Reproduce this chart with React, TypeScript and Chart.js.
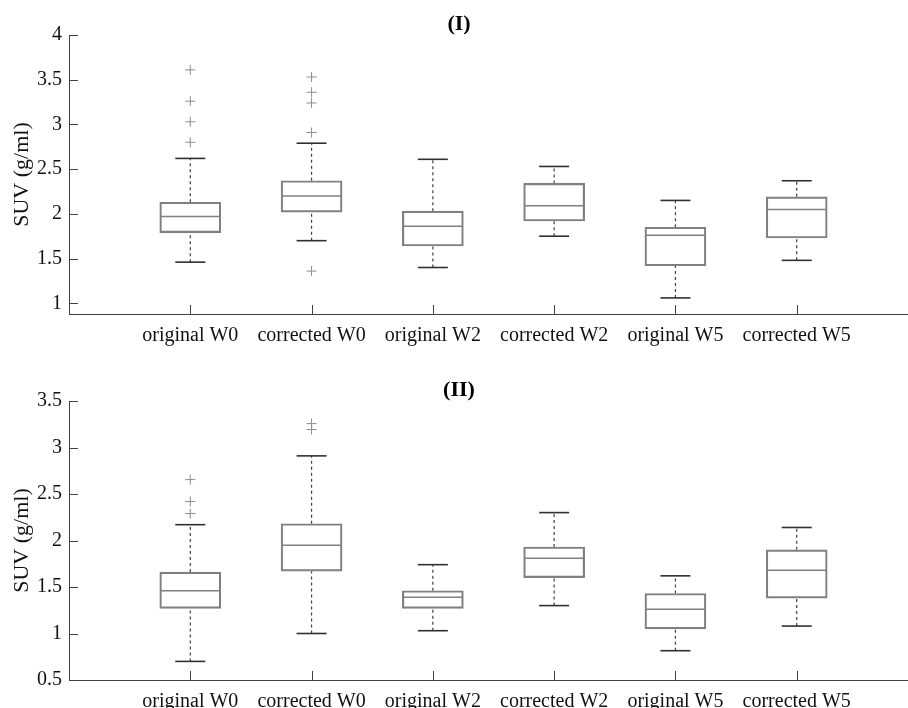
import React, { useEffect, useRef } from 'react';
import { Chart, registerables } from 'chart.js';

Chart.register(...registerables);

// ---------- data ----------
const categories = ['original W0', 'corrected W0', 'original W2', 'corrected W2', 'original W5', 'corrected W5'];

// Panel (I)
const lowI = [1.46, 1.70, 1.40, 1.75, 1.06, 1.48];
const q1I = [1.79, 2.02, 1.64, 1.92, 1.42, 1.73];
const medI = [1.97, 2.20, 1.86, 2.09, 1.76, 2.05];
const q3I = [2.13, 2.37, 2.03, 2.34, 1.85, 2.19];
const highI = [2.62, 2.79, 2.61, 2.53, 2.15, 2.37];
const outliersI = [[3.61, 3.26, 3.03, 2.80], [3.53, 3.36, 3.24, 2.91, 1.36], [], [], [], []];
const yTicksI = [1, 1.5, 2, 2.5, 3, 3.5, 4];

// Panel (II)
const lowII = [0.70, 1.00, 1.03, 1.30, 0.815, 1.08];
const q1II = [1.27, 1.67, 1.27, 1.60, 1.05, 1.38];
const medII = [1.46, 1.95, 1.39, 1.81, 1.26, 1.68];
const q3II = [1.66, 2.18, 1.46, 1.93, 1.43, 1.90];
const highII = [2.17, 2.91, 1.74, 2.30, 1.62, 2.14];
const outliersII = [[2.655, 2.42, 2.29], [3.257, 3.193], [], [], [], []];
const yTicksII = [0.5, 1, 1.5, 2, 2.5, 3, 3.5];

const yLabel = 'SUV (g/ml)';

// ---------- styles ----------
const FONT = "'Liberation Serif', 'Times New Roman', serif";
const AXIS = '#404040';
const BOX = '#808080';
const CAP = '#303030';
const WHISK = '#404040';
const OUT = '#8c8c8c';
const TEXT = '#111111';

interface PanelSpec {
  title: string;
  low: number[];
  q1: number[];
  med: number[];
  q3: number[];
  high: number[];
  outliers: number[][];
  yMin: number;
  yMax: number;
  yTicks: number[];
  titlePadTop: number;
  xAxisHeight: number;
}

const inwardTicks = {
  id: 'inwardTicks',
  afterDatasetsDraw(chart: any) {
    const { ctx, chartArea, scales } = chart;
    const x = scales.x;
    const y = scales.y;
    ctx.save();
    ctx.strokeStyle = AXIS;
    ctx.lineWidth = 1;
    ctx.beginPath();
    x.ticks.forEach((t: any) => {
      const px = Math.round(x.getPixelForValue(t.value)) + 0.5;
      ctx.moveTo(px, chartArea.bottom);
      ctx.lineTo(px, chartArea.bottom - 9);
    });
    y.ticks.forEach((t: any) => {
      const py = Math.round(y.getPixelForValue(t.value)) + 0.5;
      ctx.moveTo(chartArea.left, py);
      ctx.lineTo(chartArea.left + 9, py);
    });
    ctx.stroke();
    ctx.restore();
  },
};

function buildConfig(p: PanelSpec): any {
  const pos = categories.map((_, i) => i + 1);
  const whiskerData: any[] = [];
  pos.forEach((x, i) => {
    whiskerData.push({ x, y: p.q3[i] }, { x, y: p.high[i] }, { x, y: null });
    whiskerData.push({ x, y: p.low[i] }, { x, y: p.q1[i] }, { x, y: null });
  });
  const capData: any[] = [];
  pos.forEach((x, i) => {
    capData.push({ x, y: p.high[i] }, { x, y: p.low[i] });
  });
  const outlierData = p.outliers.flatMap((arr, i) => arr.map((v) => ({ x: i + 1, y: v })));

  return {
    type: 'bar',
    data: {
      datasets: [
        {
          type: 'line',
          data: whiskerData,
          borderColor: WHISK,
          borderWidth: 1.2,
          borderDash: [3, 3],
          pointRadius: 0,
          spanGaps: false,
          fill: false,
          order: 5,
        },
        {
          type: 'bar',
          data: pos.map((x, i) => ({ x, y: [p.q1[i], p.q3[i]] })),
          backgroundColor: 'rgba(255,255,255,0)',
          borderColor: BOX,
          borderWidth: 1.5,
          borderSkipped: false,
          barThickness: 61,
          order: 4,
        },
        {
          type: 'scatter',
          data: pos.map((x, i) => ({ x, y: p.med[i] })),
          pointStyle: 'line',
          pointRadius: 30,
          borderColor: BOX,
          pointBorderColor: BOX,
          pointBorderWidth: 1.5,
          order: 3,
        },
        {
          type: 'scatter',
          data: capData,
          pointStyle: 'line',
          pointRadius: 15,
          borderColor: CAP,
          pointBorderColor: CAP,
          pointBorderWidth: 1.6,
          order: 2,
        },
        {
          type: 'scatter',
          data: outlierData,
          pointStyle: 'cross',
          pointRadius: 5,
          borderColor: OUT,
          pointBorderColor: OUT,
          pointBorderWidth: 1,
          order: 1,
        },
      ],
    },
    options: {
      animation: false,
      responsive: true,
      maintainAspectRatio: false,
      events: [],
      layout: { padding: 0, autoPadding: false },
      plugins: {
        legend: { display: false },
        tooltip: { enabled: false },
        title: {
          display: true,
          text: p.title,
          color: '#000',
          font: { family: FONT, size: 22, weight: 'bold', lineHeight: 1 },
          padding: { top: p.titlePadTop, bottom: 0 },
        },
      },
      scales: {
        x: {
          type: 'linear',
          min: 0,
          max: 7,
          offset: false,
          afterBuildTicks: (scale: any) => {
            scale.ticks = pos.map((v) => ({ value: v }));
          },
          afterFit: (scale: any) => {
            scale.height = p.xAxisHeight;
            scale.paddingLeft = 0;
            scale.paddingRight = 0;
          },
          grid: { display: false, drawTicks: false },
          border: { display: true, color: AXIS, width: 1 },
          ticks: {
            autoSkip: false,
            maxRotation: 0,
            padding: 10,
            color: TEXT,
            font: { family: FONT, size: 20 },
            callback: (v: any) => categories[Math.round(v) - 1] ?? '',
          },
        },
        y: {
          type: 'linear',
          min: p.yMin,
          max: p.yMax,
          afterBuildTicks: (scale: any) => {
            scale.ticks = p.yTicks.map((v) => ({ value: v }));
          },
          afterFit: (scale: any) => {
            scale.width = 69;
          },
          grid: { display: false, drawTicks: false },
          border: { display: true, color: AXIS, width: 1 },
          ticks: {
            padding: 7,
            color: TEXT,
            font: { family: FONT, size: 20 },
            callback: (v: any) => String(v),
          },
          title: {
            display: true,
            text: yLabel,
            color: TEXT,
            font: { family: FONT, size: 22 },
            padding: { top: 9, bottom: 0 },
          },
        },
      },
    },
    plugins: [inwardTicks],
  };
}

const panelI: PanelSpec = {
  title: '(I)',
  low: lowI,
  q1: q1I,
  med: medI,
  q3: q3I,
  high: highI,
  outliers: outliersI,
  yMin: 0.88,
  yMax: 4,
  yTicks: yTicksI,
  titlePadTop: 13,
  xAxisHeight: 36,
};

const panelII: PanelSpec = {
  title: '(II)',
  low: lowII,
  q1: q1II,
  med: medII,
  q3: q3II,
  high: highII,
  outliers: outliersII,
  yMin: 0.5,
  yMax: 3.5,
  yTicks: yTicksII,
  titlePadTop: 29,
  xAxisHeight: 28,
};

function BoxPanel({ spec, top, height }: { spec: PanelSpec; top: number; height: number }) {
  const ref = useRef<HTMLCanvasElement | null>(null);
  useEffect(() => {
    if (!ref.current) return;
    const chart = new Chart(ref.current, buildConfig(spec));
    return () => chart.destroy();
  }, [spec]);
  return (
    <div style={{ position: 'absolute', left: 0, top, width: 918, height }}>
      <canvas ref={ref} />
    </div>
  );
}

export default function App() {
  return (
    <div
      style={{
        position: 'absolute',
        left: 0,
        top: 0,
        width: 908,
        height: 708,
        overflow: 'hidden',
        background: '#fff',
      }}
    >
      <BoxPanel spec={panelI} top={0} height={350} />
      <BoxPanel spec={panelII} top={350} height={358} />
    </div>
  );
}
